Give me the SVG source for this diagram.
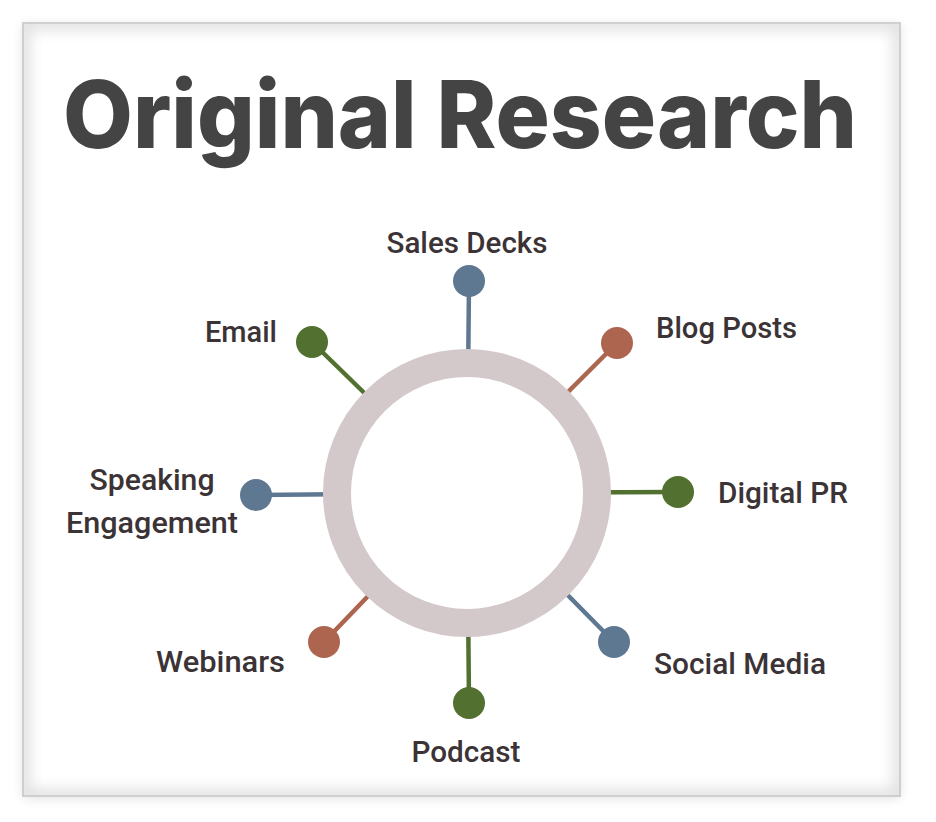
<svg xmlns="http://www.w3.org/2000/svg" width="936" height="822" viewBox="0 0 936 822">
<defs>
<filter id="outer" x="-10%" y="-10%" width="120%" height="120%"><feGaussianBlur stdDeviation="6"/></filter>
<filter id="inner" x="-10%" y="-10%" width="120%" height="120%"><feGaussianBlur stdDeviation="7"/></filter>
<clipPath id="frameClip"><rect x="23" y="23" width="877" height="773"/></clipPath>
<style>
.lbl{font-family:Roboto,"Liberation Sans",sans-serif;font-size:29px;fill:#3b3335;font-weight:500}
.title{font-family:Inter,"Liberation Sans",sans-serif;font-size:94px;font-weight:800;fill:#444444}
.blue{fill:#5f7891}.green{fill:#52702f}.red{fill:#ad6550}
.lb{stroke:#5f7891}.lg{stroke:#52702f}.lr{stroke:#ad6550}
#connectors line{stroke-width:4.5}
</style>
</defs>
<rect width="936" height="822" fill="#ffffff"/>
<rect x="23" y="25" width="877" height="773" fill="#000" opacity="0.12" filter="url(#outer)"/>
<rect x="23" y="23" width="877" height="773" fill="#ffffff"/>
<g clip-path="url(#frameClip)">
<rect x="23" y="23" width="877" height="773" fill="none" stroke="#000" stroke-opacity="0.12" stroke-width="14" filter="url(#inner)"/>
</g>
<rect x="23" y="23" width="877" height="773" fill="none" stroke="#cfcfcf" stroke-width="2"/>
<text class="title" x="460" y="148" text-anchor="middle" textLength="794" lengthAdjust="spacingAndGlyphs">Original Research</text>
<g id="connectors">
<line class="lb" x1="467" y1="493" x2="469" y2="281"/>
<line class="lr" x1="467" y1="493" x2="617" y2="343"/>
<line class="lg" x1="467" y1="493" x2="678" y2="492"/>
<line class="lb" x1="467" y1="493" x2="614" y2="642"/>
<line class="lg" x1="467" y1="493" x2="469" y2="703"/>
<line class="lr" x1="467" y1="493" x2="324" y2="642"/>
<line class="lb" x1="467" y1="493" x2="256" y2="495"/>
<line class="lg" x1="467" y1="493" x2="312" y2="342"/>
</g>
<g id="hub"><circle cx="467" cy="493" r="130" fill="#ffffff" stroke="#d3c8ca" stroke-width="28"/></g>
<g id="sales-decks"><circle class="blue" cx="469" cy="281" r="16"/><text class="lbl" x="467" y="253" text-anchor="middle" textLength="161" lengthAdjust="spacingAndGlyphs">Sales Decks</text></g>
<g id="blog-posts"><circle class="red" cx="617" cy="343" r="16"/><text class="lbl" x="656" y="338" textLength="141" lengthAdjust="spacingAndGlyphs">Blog Posts</text></g>
<g id="digital-pr"><circle class="green" cx="678" cy="492" r="16"/><text class="lbl" x="718" y="503" textLength="130" lengthAdjust="spacingAndGlyphs">Digital PR</text></g>
<g id="social-media"><circle class="blue" cx="614" cy="642" r="16"/><text class="lbl" x="654" y="674" textLength="172" lengthAdjust="spacingAndGlyphs">Social Media</text></g>
<g id="podcast"><circle class="green" cx="469" cy="703" r="16"/><text class="lbl" x="466" y="762" text-anchor="middle" textLength="109" lengthAdjust="spacingAndGlyphs">Podcast</text></g>
<g id="webinars"><circle class="red" cx="324" cy="642" r="16"/><text class="lbl" x="156" y="672" textLength="129" lengthAdjust="spacingAndGlyphs">Webinars</text></g>
<g id="speaking-engagement"><circle class="blue" cx="256" cy="495" r="16"/><text class="lbl" x="152" y="490" text-anchor="middle" textLength="125" lengthAdjust="spacingAndGlyphs">Speaking</text><text class="lbl" x="152" y="533" text-anchor="middle" textLength="172" lengthAdjust="spacingAndGlyphs">Engagement</text></g>
<g id="email"><circle class="green" cx="312" cy="342" r="16"/><text class="lbl" x="205" y="342" textLength="72" lengthAdjust="spacingAndGlyphs">Email</text></g>
</svg>
